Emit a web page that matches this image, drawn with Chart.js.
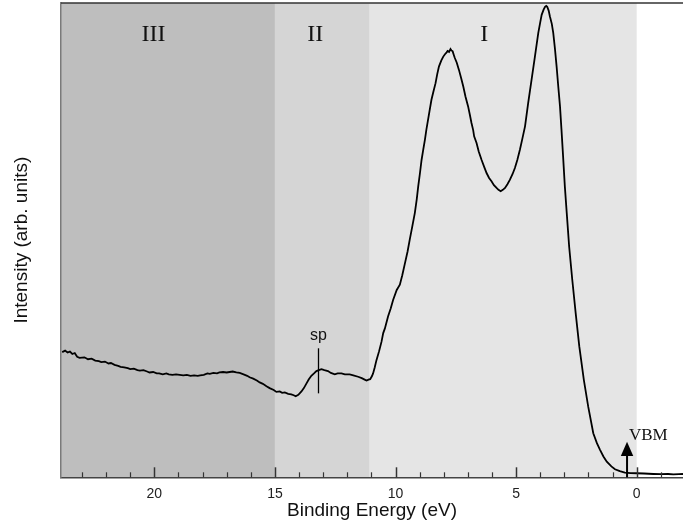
<!DOCTYPE html>
<html><head><meta charset="utf-8">
<script src="https://cdn.jsdelivr.net/npm/chart.js@4.4.1/dist/chart.umd.min.js"></script>
<style>html,body{margin:0;padding:0;background:#fff}canvas{display:block}</style>
</head><body>
<canvas id="c" width="683" height="532"></canvas>
<script>
// ---- data ----
const bindingEnergy = [
  23.82,23.7,23.6,23.5,23.4,23.3,23.2,23.1,22.9,22.75,22.6,22.45,22.3,22.2,22.05,21.9,21.8,21.65,21.5,21.4,
  21.25,21.1,21.0,20.85,20.7,20.6,20.45,20.3,20.2,20.05,19.9,19.8,19.65,19.5,19.4,19.25,19.1,18.95,18.8,18.65,
  18.5,18.35,18.2,18.1,17.95,17.8,17.7,17.55,17.4,17.3,17.15,17.0,16.88,16.75,16.6,16.46,16.3,16.15,16.05,15.9,
  15.75,15.63,15.5,15.35,15.22,15.05,14.94,14.8,14.7,14.59,14.45,14.32,14.22,14.14,14.03,13.9,13.8,13.69,13.6,13.49,
  13.38,13.28,13.18,13.07,12.95,12.8,12.68,12.52,12.4,12.24,12.1,11.9,11.75,11.55,11.4,11.28,11.2,11.12,11.05,10.98,
  10.93,10.86,10.79,10.68,10.58,10.51,10.44,10.31,10.2,10.1,9.95,9.82,9.72,9.61,9.5,9.41,9.3,9.2,9.12,9.06,
  8.99,8.92,8.85,8.78,8.72,8.65,8.58,8.51,8.43,8.34,8.27,8.2,8.1,8.02,7.95,7.88,7.84,7.78,7.72,7.68,
  7.63,7.58,7.54,7.46,7.37,7.28,7.19,7.1,6.99,6.92,6.85,6.78,6.74,6.64,6.55,6.43,6.32,6.22,6.12,6.02,
  5.92,5.81,5.73,5.64,5.55,5.46,5.36,5.26,5.15,5.05,4.95,4.84,4.74,4.63,4.5,4.36,4.22,4.08,4.0,3.94,
  3.86,3.8,3.75,3.71,3.65,3.6,3.52,3.46,3.39,3.32,3.25,3.18,3.12,3.05,2.98,2.9,2.8,2.67,2.53,2.38,
  2.19,2.01,1.8,1.65,1.52,1.38,1.24,1.05,0.9,0.7,0.49,0.25,0.0,-0.3,-0.69,-1.0,-1.3,-1.52,-1.75,-1.92
];
const intensity = [
  26.4,26.7,26.3,26.5,26.0,26.2,25.4,25.2,25.3,24.9,25.0,24.6,24.5,24.3,24.4,24.0,24.1,23.7,23.5,23.3,
  23.2,23.0,22.8,22.9,22.6,22.5,22.6,22.3,22.1,22.2,21.9,21.9,21.7,21.9,21.7,21.6,21.7,21.6,21.5,21.6,
  21.4,21.5,21.4,21.5,21.6,21.9,21.8,22.0,21.9,22.1,22.2,22.1,22.2,22.3,22.1,22.0,21.7,21.4,21.1,20.8,
  20.4,20.0,19.7,19.2,18.8,18.4,18.0,18.1,17.8,17.9,17.6,17.5,17.3,17.1,17.4,18.1,18.8,19.8,20.6,21.4,
  21.9,22.4,22.6,22.8,22.6,22.4,22.0,21.7,21.9,21.9,21.7,21.7,21.5,21.2,20.9,20.6,20.4,20.6,20.7,21.3,
  21.9,23.2,24.7,26.6,28.6,30.4,31.4,33.9,35.6,37.4,39.5,40.6,42.6,45.1,47.6,50.1,53.0,55.7,58.6,61.3,
  64.0,66.9,69.1,71.2,73.3,75.4,77.5,79.6,81.3,83.1,85.0,86.6,87.9,88.7,89.2,89.6,89.9,89.7,90.3,90.0,
  89.8,89.0,88.4,87.4,85.9,84.2,82.4,80.3,78.2,76.5,74.7,73.2,71.9,70.5,68.7,66.9,65.4,64.1,63.1,62.4,
  61.6,61.0,60.6,60.3,60.6,61.0,61.8,62.7,63.9,65.2,66.9,69.1,71.4,74.0,78.9,83.8,88.7,93.7,95.9,97.5,
  98.6,99.2,99.4,99.2,98.4,97.2,95.6,93.7,90.4,86.6,82.3,78.2,73.4,67.5,61.4,55.7,48.6,41.6,34.6,27.6,
  20.5,14.9,9.3,7.2,5.8,4.4,3.3,2.3,1.7,1.3,1.0,0.9,0.85,0.8,0.7,0.65,0.7,0.6,0.65,0.7
];
const xTickLabels = [20, 15, 10, 5, 0];
const regionNames = ['III', 'II', 'I'];
const regionFrom = [23.87, 15, 11.07];
const regionTo = [15, 11.07, 0];
const regionLabelE = [20.03, 13.33, 6.32];
const regionLabelI = 91.9;
const spMark = {label: 'sp', e: 13.21, low: 17.7, high: 27.2, labelI: 29.0};
const vbmMark = {label: 'VBM', e: 0.40, tip: 7.5, headBase: 4.5, labelE: 0.32, labelI: 7.9};
const xRange = {min: -1.92, max: 23.87};
const yRange = {min: 0, max: 100};

// ---- styles ----
const regionColors = ['#bebebe', '#d5d5d5', '#e5e5e5'];
const SANS = '"Liberation Sans", Arial, sans-serif';
const SERIF = '"Liberation Serif", "Times New Roman", serif';

const decorPlugin = {
  id: 'decor',
  beforeDraw(chart) {
    const {ctx, chartArea: a, scales: {x}} = chart;
    ctx.save();
    regionNames.forEach((n, i) => {
      const p1 = x.getPixelForValue(regionFrom[i]);
      const p2 = x.getPixelForValue(regionTo[i]);
      ctx.fillStyle = regionColors[i];
      ctx.fillRect(Math.min(p1, p2), a.top, Math.abs(p2 - p1), a.bottom - a.top);
    });
    ctx.restore();
  },
  afterDatasetsDraw(chart) {
    const {ctx, chartArea: a, scales: {x, y}} = chart;
    ctx.save();
    // region labels
    ctx.fillStyle = '#111';
    ctx.font = '24px ' + SERIF;
    ctx.textAlign = 'center';
    ctx.textBaseline = 'alphabetic';
    regionNames.forEach((n, i) => {
      ctx.fillText(n, x.getPixelForValue(regionLabelE[i]), y.getPixelForValue(regionLabelI));
    });
    // sp marker
    const sx = Math.round(x.getPixelForValue(spMark.e)) + 0.5;
    ctx.strokeStyle = '#000';
    ctx.lineWidth = 1.3;
    ctx.beginPath();
    ctx.moveTo(sx, y.getPixelForValue(spMark.high));
    ctx.lineTo(sx, y.getPixelForValue(spMark.low));
    ctx.stroke();
    ctx.font = '16px ' + SANS;
    ctx.fillStyle = '#111';
    ctx.fillText(spMark.label, sx, y.getPixelForValue(spMark.labelI));
    // VBM arrow
    const vx = x.getPixelForValue(vbmMark.e);
    const tipY = y.getPixelForValue(vbmMark.tip);
    const baseY = y.getPixelForValue(vbmMark.headBase);
    ctx.lineWidth = 2;
    ctx.beginPath();
    ctx.moveTo(vx, y.getPixelForValue(0));
    ctx.lineTo(vx, baseY);
    ctx.stroke();
    ctx.fillStyle = '#000';
    ctx.beginPath();
    ctx.moveTo(vx, tipY);
    ctx.lineTo(vx - 6.2, baseY);
    ctx.lineTo(vx + 6.2, baseY);
    ctx.closePath();
    ctx.fill();
    ctx.font = '17px ' + SERIF;
    ctx.textAlign = 'left';
    ctx.fillStyle = '#111';
    ctx.fillText(vbmMark.label, x.getPixelForValue(vbmMark.labelE), y.getPixelForValue(vbmMark.labelI));
    ctx.restore();
  },
  afterDraw(chart) {
    const {ctx, chartArea: a, scales: {x}} = chart;
    ctx.save();
    // inward tick marks
    ctx.strokeStyle = '#333';
    x.ticks.forEach(t => {
      const v = t.value;
      const major = Math.abs(v / 5 - Math.round(v / 5)) < 1e-6;
      const px = Math.round(x.getPixelForValue(v)) + 0.5;
      ctx.lineWidth = major ? 1.5 : 1.2;
      ctx.beginPath();
      ctx.moveTo(px, x.top);
      ctx.lineTo(px, x.top - (major ? 10 : 5));
      ctx.stroke();
    });
    // top frame line
    ctx.strokeStyle = '#333';
    ctx.lineWidth = 1.5;
    ctx.beginPath();
    ctx.moveTo(a.left, a.top);
    ctx.lineTo(a.right, a.top);
    ctx.stroke();
    ctx.restore();
  }
};

new Chart(document.getElementById('c'), {
  type: 'line',
  data: {
    datasets: [{
      data: bindingEnergy.map((e, i) => ({x: e, y: intensity[i]})),
      borderColor: '#000',
      borderWidth: 1.8,
      pointRadius: 0,
      tension: 0,
      fill: false
    }]
  },
  options: {
    responsive: false,
    animation: false,
    devicePixelRatio: 1,
    layout: {padding: {top: 3, left: 0, right: 0, bottom: 0}},
    plugins: {legend: {display: false}, tooltip: {enabled: false}},
    scales: {
      x: {
        type: 'linear',
        reverse: true,
        min: xRange.min,
        max: xRange.max,
        grid: {display: false, drawTicks: false},
        border: {display: true, color: '#444', width: 1.6},
        ticks: {
          stepSize: 1,
          includeBounds: false,
          autoSkip: false,
          maxRotation: 0,
          padding: 8,
          color: '#222',
          font: {family: SANS, size: 14},
          callback: v => {
            const r = Math.round(v);
            return (Math.abs(v - r) < 1e-6 && xTickLabels.includes(r)) ? String(r) : '';
          }
        },
        title: {
          display: true,
          text: 'Binding Energy (eV)',
          color: '#111',
          font: {family: SANS, size: 19},
          padding: {top: 0, bottom: 10}
        },
        afterFit: s => { s.height = 54.7; }
      },
      y: {
        min: yRange.min,
        max: yRange.max,
        grid: {display: false, drawTicks: false},
        border: {display: true, color: '#7a7a7a', width: 1.5},
        ticks: {display: false},
        title: {
          display: true,
          text: 'Intensity (arb. units)',
          color: '#111',
          font: {family: SANS, size: 19},
          padding: {top: 10, bottom: 0}
        },
        afterFit: s => { s.width = 61; }
      }
    }
  },
  plugins: [decorPlugin]
});
</script>
</body></html>
